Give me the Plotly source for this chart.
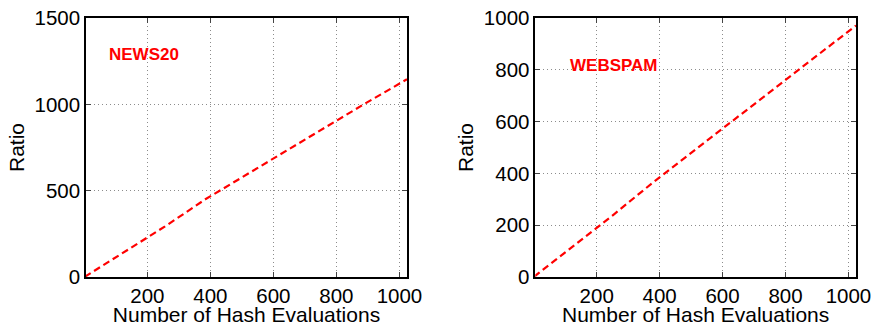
import plotly.graph_objects as go
from plotly.subplots import make_subplots

# Number of hash evaluations (shared x values)
hash_evals = [1, 128, 256, 384, 512, 640, 768, 896, 1024]

# Ratio curves for the two datasets
news20_ratio = [1, 145, 293, 450, 590, 728, 872, 1010, 1145]
webspam_ratio = [1, 122, 243, 370, 490, 610, 728, 850, 971]

x_ticks = [200, 400, 600, 800, 1000]
news20_yticks = [0, 500, 1000, 1500]
webspam_yticks = [0, 200, 400, 600, 800, 1000]

FONT = "Liberation Sans, Arial, Helvetica, sans-serif"

fig = make_subplots(rows=1, cols=2)

line_style = dict(color="#ff0000", width=2.2, dash="7px,4px")
fig.add_trace(go.Scatter(x=hash_evals, y=news20_ratio, mode="lines",
                         line=line_style, showlegend=False), row=1, col=1)
fig.add_trace(go.Scatter(x=hash_evals, y=webspam_ratio, mode="lines",
                         line=line_style, showlegend=False), row=1, col=2)

axis_common = dict(
    showline=True, linecolor="black", linewidth=1.5, mirror="ticks",
    ticks="inside", ticklen=5, tickcolor="#444", tickwidth=1,
    showgrid=True, gridcolor="#8c8c8c", griddash="1px,3px", gridwidth=1,
    zeroline=False, automargin=False,
    tickfont=dict(family=FONT, size=20.5, color="black"),
)

fig.update_xaxes(**axis_common, range=[5, 1024], tickvals=x_ticks,
                 title=dict(text="Number of Hash Evaluations",
                            font=dict(family=FONT, size=21, color="black"),
                            standoff=0))
fig.update_yaxes(**axis_common,
                 title=dict(text="Ratio",
                            font=dict(family=FONT, size=21, color="black"),
                            standoff=4))

fig.update_yaxes(range=[0, 1500], tickvals=news20_yticks, row=1, col=1)
fig.update_yaxes(range=[0, 1000], tickvals=webspam_yticks, row=1, col=2)

fig.update_layout(
    width=873, height=326,
    margin=dict(l=0, r=0, t=0, b=0),
    plot_bgcolor="white", paper_bgcolor="white",
    xaxis=dict(domain=[0.0985, 0.4662]),
    xaxis2=dict(domain=[0.6132, 0.9805]),
    yaxis=dict(domain=[0.1503, 0.9448]),
    yaxis2=dict(domain=[0.1503, 0.9448]),
)

label_font = dict(family=FONT, size=17, color="#ff0000")
fig.add_annotation(x=72, y=1291, xref="x", yref="y", text="<b>NEWS20</b>",
                   showarrow=False, xanchor="left", yanchor="middle", font=label_font)
fig.add_annotation(x=109, y=816, xref="x2", yref="y2", text="<b>WEBSPAM</b>",
                   showarrow=False, xanchor="left", yanchor="middle", font=label_font)

fig.write_html("out.html")
